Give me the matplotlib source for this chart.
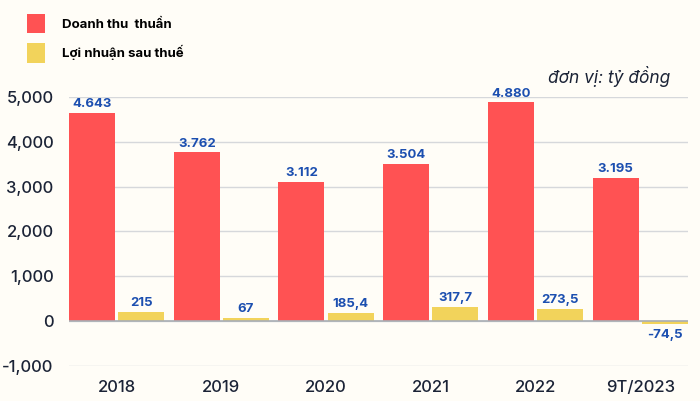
import matplotlib
matplotlib.use("Agg")
import matplotlib.pyplot as plt
import numpy as np

years = ["2018", "2019", "2020", "2021", "2022", "9T/2023"]
revenue = [4643, 3762, 3112, 3504, 4880, 3195]
profit = [215, 67, 185.4, 317.7, 273.5, -74.5]
revenue_labels = ["4.643", "3.762", "3.112", "3.504", "4.880", "3.195"]
profit_labels = ["215", "67", "185,4", "317,7", "273,5", "-74,5"]

bg = "#FFFDF7"
red = "#FF5253"
yellow = "#F2D35B"
blue = "#1C4FB0"
dark = "#1B2336"

plt.rcParams["font.family"] = ["Inter", "DejaVu Sans"]

fig = plt.figure(figsize=(7, 4.01), dpi=100, facecolor=bg)
ax = fig.add_axes([0.0986, 0.0873, 0.884, 0.671], facecolor=bg)

x = np.arange(len(years))
w = 0.44
gap = 0.03
b1 = ax.bar(x - w / 2 - gap / 2, revenue, w, color=red, label="Doanh thu  thuần", zorder=3)
b2 = ax.bar(x + w / 2 + gap / 2, profit, w, color=yellow, label="Lợi nhuận sau thuế", zorder=3)

for rect, lab in zip(b1, revenue_labels):
    ax.text(rect.get_x() + rect.get_width() / 2, rect.get_height() + 60, lab,
            ha="center", va="bottom", color=blue, fontsize=9.5, fontweight="bold", clip_on=False)
for rect, val, lab in zip(b2, profit, profit_labels):
    cx = rect.get_x() + rect.get_width() / 2
    if val >= 0:
        ax.text(cx, val + 60, lab, ha="center", va="bottom", color=blue,
                fontsize=9.5, fontweight="bold")
    else:
        ax.text(cx, val - 90, lab, ha="center", va="top", color=blue,
                fontsize=9.5, fontweight="bold")

ax.set_xlim(x[0] - w - gap / 2, x[-1] + w + gap / 2)
ax.set_ylim(-1000, 5000)
ax.set_yticks(range(-1000, 5001, 1000))
ax.set_yticklabels([f"{v:,}" for v in range(-1000, 5001, 1000)])
ax.set_xticks(x)
ax.set_xticklabels(years)
ax.tick_params(axis="both", length=0, colors=dark, labelsize=12)
ax.tick_params(axis="y", pad=11)
ax.tick_params(axis="x", pad=10)
for lab in ax.get_xticklabels() + ax.get_yticklabels():
    lab.set_fontweight(500)
ax.grid(axis="y", color="#D6D8DB", linewidth=1, zorder=0)
ax.axhline(0, color="#A9AEB4", linewidth=1.2, zorder=4)
for s in ax.spines.values():
    s.set_visible(False)

fig.text(0.958, 0.81, "đơn vị: tỷ đồng", ha="right", va="center",
         fontsize=12.5, style="italic", color=dark)

fig.legend(handles=[b1, b2], loc="upper left", bbox_to_anchor=(0.022, 0.995),
           frameon=False, handlelength=1.35, handleheight=1.9,
           labelspacing=0.75, handletextpad=1.3,
           prop={"weight": "bold", "size": 9.5})

fig.savefig("out.png", dpi=100, facecolor=bg)
